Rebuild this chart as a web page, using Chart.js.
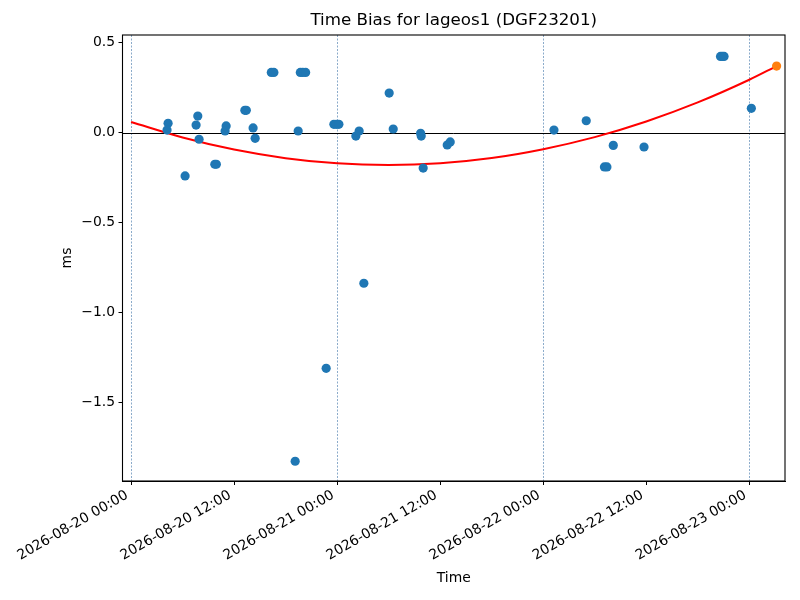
<!DOCTYPE html>
<html>
<head>
<meta charset="utf-8">
<script src="https://cdn.jsdelivr.net/npm/chart.js@4/dist/chart.umd.min.js"></script>
<style>
  html, body { margin: 0; padding: 0; background: #fff; }
  #c { display: block; }
</style>
</head>
<body>
<canvas id="c" width="800" height="600" style="width:800px;height:600px"></canvas>
<script>
// ---- Data (hours since 2026-08-20 00:00, time bias in ms) ----
const biasHours = [4.31, 4.19, 6.29, 7.77, 7.57, 7.92, 9.75, 9.93, 11.07, 10.95,
  13.25, 13.42, 14.21, 14.45, 16.33, 16.63, 19.11, 19.46, 19.71, 20.00, 20.33,
  22.72, 23.62, 23.91, 24.20, 26.18, 26.56, 27.11, 30.06, 30.53, 33.72, 33.79,
  34.02, 36.82, 37.17, 49.25, 53.01, 55.13, 55.42, 56.16, 59.74, 68.65, 68.86,
  69.06, 72.24];
const biasValues = [0.052, 0.014, -0.241, 0.092, 0.042, -0.037, -0.176, -0.176, 0.037, 0.009,
  0.124, 0.124, 0.026, -0.032, 0.335, 0.335, -1.828, 0.009, 0.335, 0.335, 0.335,
  -1.311, 0.046, 0.046, 0.046, -0.019, 0.009, -0.838, 0.220, 0.020, -0.004, -0.019,
  -0.197, -0.069, -0.052, 0.014, 0.066, -0.191, -0.191, -0.071, -0.080, 0.424, 0.424,
  0.424, 0.135];

const predHours = [75.18];
const predValues = [0.370];

const fitHours = [0, 6, 12, 18, 24, 30, 36, 42, 48, 54, 60, 66, 72, 75.18];
const fitValues = [0.059, -0.027, -0.094, -0.142, -0.171, -0.180, -0.170, -0.141, -0.092, -0.025, 0.062, 0.168, 0.294, 0.370];

const xTickHours = [0, 12, 24, 36, 48, 60, 72];
const xTickLabels = ["2026-08-20 00:00", "2026-08-20 12:00", "2026-08-21 00:00", "2026-08-21 12:00",
  "2026-08-22 00:00", "2026-08-22 12:00", "2026-08-23 00:00"];
const dayLineHours = [0, 24, 48, 72];
const yTickValues = [-1.5, -1.0, -0.5, 0.0, 0.5];
const yTickLabels = ["\u22121.5", "\u22121.0", "\u22120.5", "0.0", "0.5"];

const titleText = "Time Bias for lageos1 (DGF23201)";
const xTitle = "Time";
const yTitle = "ms";

// ---- Build ----
const toPts = (xs, ys) => xs.map((x, i) => ({ x: x, y: ys[i] }));
const FONT = "'DejaVu Sans', sans-serif";

const decorPlugin = {
  id: 'decor',
  beforeDatasetsDraw(chart) {
    const { ctx, chartArea: a, scales: { x, y } } = chart;
    ctx.save();
    ctx.strokeStyle = '#6d96bd';
    ctx.lineWidth = 0.8;
    ctx.setLineDash([2, 1.5]);
    dayLineHours.forEach(h => {
      const px = Math.round(x.getPixelForValue(h)) + 0.5;
      ctx.beginPath(); ctx.moveTo(px, a.top); ctx.lineTo(px, a.bottom); ctx.stroke();
    });
    ctx.setLineDash([]);
    ctx.strokeStyle = '#000';
    ctx.lineWidth = 1;
    const py = Math.round(y.getPixelForValue(0)) + 0.5;
    ctx.beginPath(); ctx.moveTo(a.left, py); ctx.lineTo(a.right, py); ctx.stroke();
    ctx.restore();
  },
  afterDraw(chart) {
    const { ctx, chartArea: a } = chart;
    ctx.save();
    ctx.strokeStyle = '#000';
    ctx.lineWidth = 1.1;
    ctx.strokeRect(a.left, a.top, a.right - a.left, a.bottom - a.top);
    ctx.restore();
  }
};

new Chart(document.getElementById('c'), {
  type: 'scatter',
  data: {
    datasets: [
      { label: 'prediction', data: toPts(predHours, predValues), backgroundColor: '#ff7f0e',
        borderColor: '#ff7f0e', pointRadius: 4.6, pointBorderWidth: 0 },
      { label: 'bias', data: toPts(biasHours, biasValues), backgroundColor: '#1f77b4',
        borderColor: '#1f77b4', pointRadius: 4.6, pointBorderWidth: 0 },
      { type: 'line', label: 'fit', data: toPts(fitHours, fitValues), borderColor: '#ff0000',
        backgroundColor: '#ff0000', borderWidth: 2, pointRadius: 0, fill: false,
        cubicInterpolationMode: 'monotone' }
    ]
  },
  options: {
    responsive: false,
    animation: false,
    devicePixelRatio: 1,
    layout: { padding: { left: 0, right: 15, top: 0, bottom: 0 } },
    plugins: {
      legend: { display: false },
      tooltip: { enabled: false },
      title: { display: false }
    },
    scales: {
      x: {
        type: 'linear', min: -1.0, max: 76.16, position: 'bottom',
        afterBuildTicks: s => { s.ticks = xTickHours.map(v => ({ value: v })); },
        afterFit: s => { s.height = 119; },
        ticks: {
          autoSkip: false, maxRotation: 30, minRotation: 30, color: '#000', padding: 2,
          labelOffset: -4,
          font: { family: FONT, size: 13.9 },
          callback: v => xTickLabels[xTickHours.indexOf(v)]
        },
        grid: { drawOnChartArea: false, color: '#000', tickColor: '#000', tickLength: 4, tickWidth: 1 },
        border: { display: true, color: '#000', width: 1 },
        title: { display: true, text: xTitle, color: '#000',
          font: { family: FONT, size: 13.9, lineHeight: 1.2 }, padding: { top: 0, bottom: 13 } }
      },
      xTop: {
        type: 'linear', position: 'top', min: -1.0, max: 76.16,
        afterFit: s => { s.height = 35; },
        ticks: { display: false },
        grid: { display: false, drawTicks: false },
        border: { display: false },
        title: { display: true, text: titleText, color: '#000',
          font: { family: FONT, size: 16.7, weight: 'normal', lineHeight: 1.2 },
          padding: { top: 11, bottom: 0 } }
      },
      y: {
        type: 'linear', min: -1.938, max: 0.543,
        afterBuildTicks: s => { s.ticks = yTickValues.map(v => ({ value: v })); },
        afterFit: s => { s.width = 122.5; },
        ticks: {
          color: '#000', padding: 3.5, font: { family: FONT, size: 13.9 },
          callback: v => yTickLabels[yTickValues.indexOf(v)]
        },
        grid: { drawOnChartArea: false, color: '#000', tickColor: '#000', tickLength: 4, tickWidth: 1 },
        border: { display: true, color: '#000', width: 1 },
        title: { display: true, text: yTitle, color: '#000',
          font: { family: FONT, size: 13.9, lineHeight: 1.2 }, padding: { top: 59, bottom: 0 } }
      }
    }
  },
  plugins: [decorPlugin]
});
</script>
</body>
</html>
